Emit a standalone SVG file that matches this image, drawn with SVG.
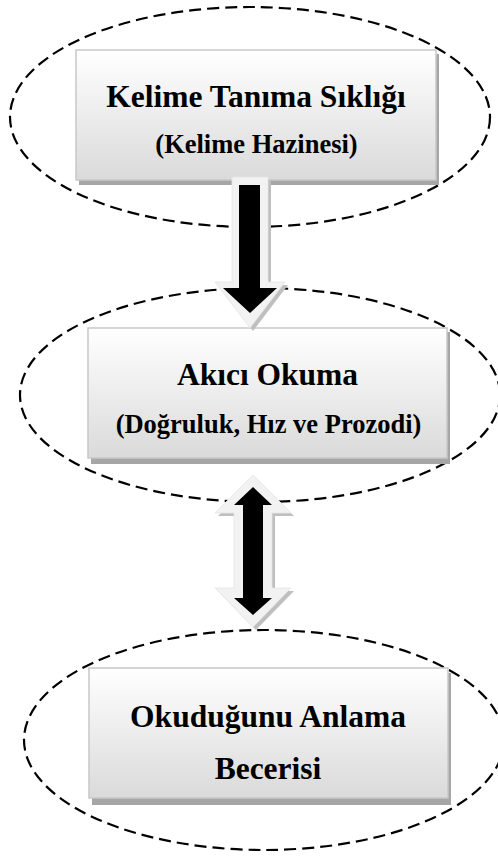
<svg xmlns="http://www.w3.org/2000/svg" width="498" height="856" viewBox="0 0 498 856">
  <defs>
    <linearGradient id="boxFill" x1="0" y1="0" x2="0" y2="1">
      <stop offset="0" stop-color="#ffffff"/>
      <stop offset="1" stop-color="#dadada"/>
    </linearGradient>
    <style>
      .ring { fill: none; stroke: #000; stroke-width: 2.2; stroke-dasharray: 12 6; }
      .shadow { fill: #a6a6a6; }
      .box { fill: url(#boxFill); stroke: #c8c8c8; stroke-width: 1.5; }
      .title { font-family: "Liberation Serif", "Times New Roman", serif; font-weight: bold; font-size: 31.5px; fill: #000; text-anchor: middle; }
      .sub { font-family: "Liberation Serif", "Times New Roman", serif; font-weight: bold; font-size: 26.5px; fill: #000; text-anchor: middle; }
      .arrowShadow { fill: #bfbfbf; }
      .arrowOuter { fill: #f2f2f2; stroke: #e4e4e4; stroke-width: 0.8; }
      .arrowCore { fill: #000; }
    </style>
  </defs>

  <rect width="498" height="856" fill="#ffffff"/>

  <!-- Dashed rings around each stage -->
  <g id="rings">
    <ellipse class="ring" cx="250" cy="117" rx="240" ry="110"/>
    <ellipse class="ring" cx="260" cy="395" rx="240" ry="107"/>
    <ellipse class="ring" cx="264" cy="740" rx="240" ry="110"/>
  </g>

  <!-- Stage 1 -->
  <g id="node-kelime">
    <rect class="shadow" x="79" y="54" width="360" height="131"/>
    <rect class="box" x="76" y="50" width="360" height="130"/>
    <text class="title" x="256" y="107">Kelime Tanıma Sıklığı</text>
    <text class="sub" x="256.5" y="153">(Kelime Hazinesi)</text>
  </g>

  <!-- Stage 2 -->
  <g id="node-akici">
    <rect class="shadow" x="91" y="332" width="359" height="132"/>
    <rect class="box" x="88" y="328" width="359" height="130"/>
    <text class="title" x="267.5" y="385">Akıcı Okuma</text>
    <text class="sub" x="268.5" y="433">(Doğruluk, Hız ve Prozodi)</text>
  </g>

  <!-- Stage 3 -->
  <g id="node-anlama">
    <rect class="shadow" x="92" y="673" width="359" height="132"/>
    <rect class="box" x="89" y="668" width="359" height="130"/>
    <text class="title" x="268" y="727">Okuduğunu Anlama</text>
    <text class="title" x="268" y="779">Becerisi</text>
  </g>

  <!-- Block arrows between stages -->
  <g id="connectors">
    <g id="arrow-down">
      <polygon class="arrowShadow" points="235,180 271,180 271,285 288,285 253,331 218,285 235,285"/>
      <polygon class="arrowOuter" points="232,177 268,177 268,282 285,282 250,328 215,282 232,282"/>
      <polygon class="arrowCore" points="239,185 260,185 260,288 277,288 250,313 223,288 239,288"/>
    </g>
    <g id="arrow-both">
      <polygon class="arrowShadow" points="256,478 294,516 275,516 275,591 294,591 256,630 218,591 237,591 237,516 218,516"/>
      <polygon class="arrowOuter" points="253,475 291,513 272,513 272,588 291,588 253,627 215,588 234,588 234,513 215,513"/>
      <polygon class="arrowCore" points="253,487 272,505 263,505 263,598 272,598 253,615 234,598 243,598 243,505 234,505"/>
    </g>
  </g>
</svg>
